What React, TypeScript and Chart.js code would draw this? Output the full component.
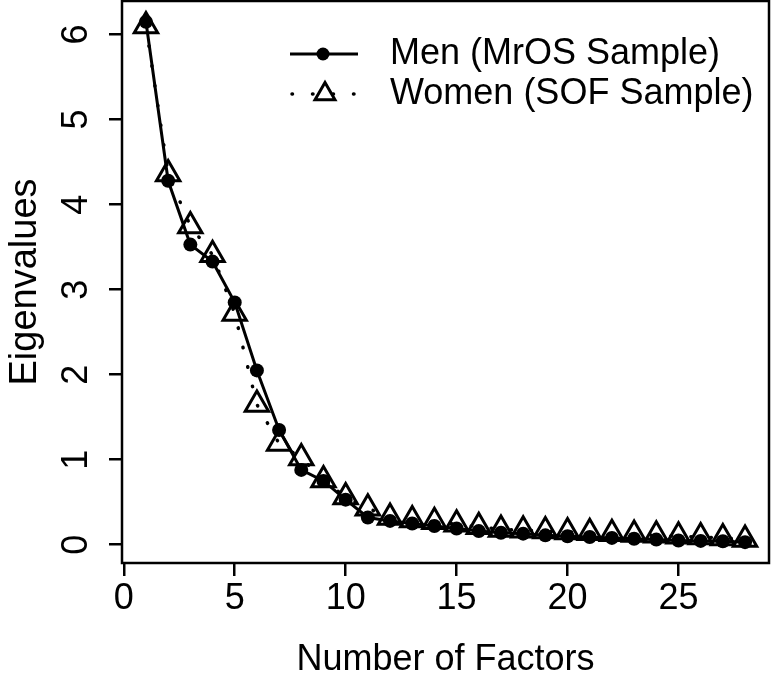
import React, { useEffect, useRef } from 'react';
import { Chart, registerables } from 'chart.js';

Chart.register(...registerables);

// ---- Data ----
const FACTORS = [1, 2, 3, 4, 5, 6, 7, 8, 9, 10, 11, 12, 13, 14, 15, 16, 17, 18, 19, 20, 21, 22, 23, 24, 25, 26, 27, 28];
const MEN = [6.15, 4.28, 3.53, 3.33, 2.85, 2.05, 1.35, 0.88, 0.75, 0.53, 0.32, 0.28, 0.25, 0.22, 0.19, 0.16, 0.14, 0.13, 0.11, 0.10, 0.09, 0.08, 0.07, 0.06, 0.05, 0.045, 0.04, 0.03];
const WOMEN = [6.1, 4.36, 3.75, 3.41, 2.72, 1.65, 1.19, 1.02, 0.76, 0.56, 0.43, 0.32, 0.29, 0.27, 0.24, 0.21, 0.18, 0.17, 0.16, 0.15, 0.14, 0.13, 0.12, 0.11, 0.10, 0.09, 0.08, 0.06];
const X_TICKS = [0, 5, 10, 15, 20, 25];
const Y_TICKS = [0, 1, 2, 3, 4, 5, 6];
const X_LIMITS = [-0.08, 29.08];
const Y_LIMITS = [-0.215, 6.395];
const SERIES_LABELS = ['Men (MrOS Sample)', 'Women (SOF Sample)'];
const X_TITLE = 'Number of Factors';
const Y_TITLE = 'Eigenvalues';

const FONT = 'Helvetica, "Liberation Sans", Arial, sans-serif';
const FONT_SIZE = 36;

const boxLegendPlugin = {
  id: 'boxLegend',
  afterDraw(chart: any) {
    const { ctx, chartArea: a } = chart;
    ctx.save();
    ctx.strokeStyle = '#000';
    ctx.lineWidth = 2.5;
    ctx.strokeRect(a.left, a.top, a.right - a.left, a.bottom - a.top);

    // legend (R style, no box)
    const x0 = 290;
    const x1 = 358;
    const rows = [54, 94];
    // row 1: solid line + filled circle
    ctx.setLineDash([]);
    ctx.lineWidth = 3;
    ctx.beginPath();
    ctx.moveTo(x0, rows[0]);
    ctx.lineTo(x1, rows[0]);
    ctx.stroke();
    ctx.fillStyle = '#000';
    ctx.beginPath();
    ctx.arc(323, rows[0], 6.5, 0, Math.PI * 2);
    ctx.fill();
    // row 2: dotted line + open triangle
    ctx.lineCap = 'round';
    ctx.setLineDash([0.5, 20]);
    ctx.lineWidth = 3.5;
    ctx.beginPath();
    ctx.moveTo(x0 + 2, rows[1]);
    ctx.lineTo(x1, rows[1]);
    ctx.stroke();
    ctx.setLineDash([]);
    ctx.lineCap = 'butt';
    ctx.lineWidth = 3;
    const r = 11.5;
    const cx = 325;
    const cy = rows[1];
    ctx.beginPath();
    ctx.moveTo(cx, cy - r);
    ctx.lineTo(cx + r * Math.sin((2 * Math.PI) / 3), cy - r * Math.cos((2 * Math.PI) / 3));
    ctx.lineTo(cx + r * Math.sin((4 * Math.PI) / 3), cy - r * Math.cos((4 * Math.PI) / 3));
    ctx.closePath();
    ctx.stroke();

    ctx.font = `${FONT_SIZE}px ${FONT}`;
    ctx.textBaseline = 'middle';
    ctx.textAlign = 'left';
    ctx.fillText(SERIES_LABELS[0], 390, rows[0]);
    ctx.fillText(SERIES_LABELS[1], 390, rows[1]);
    ctx.restore();
  },
};

export default function App() {
  const ref = useRef<HTMLCanvasElement>(null);
  useEffect(() => {
    const canvas = ref.current;
    if (!canvas) return;
    const chart = new Chart(canvas, {
      type: 'line',
      data: {
        datasets: [
          {
            label: SERIES_LABELS[0],
            data: FACTORS.map((f, i) => ({ x: f, y: MEN[i] })),
            borderColor: '#000',
            backgroundColor: '#000',
            borderWidth: 3,
            tension: 0,
            pointStyle: 'circle',
            pointRadius: 7,
            pointBackgroundColor: '#000',
            pointBorderColor: '#000',
            pointBorderWidth: 0,
          },
          {
            label: SERIES_LABELS[1],
            data: FACTORS.map((f, i) => ({ x: f, y: WOMEN[i] })),
            borderColor: '#000',
            backgroundColor: 'rgba(0,0,0,0)',
            borderWidth: 3.5,
            borderDash: [0.5, 19.5],
            borderCapStyle: 'round',
            tension: 0,
            pointStyle: 'triangle',
            pointRadius: 13.5,
            pointBackgroundColor: 'rgba(0,0,0,0)',
            pointBorderColor: '#000',
            pointBorderWidth: 3,
          },
        ],
      },
      options: {
        responsive: false,
        animation: false,
        devicePixelRatio: 1,
        events: [],
        layout: { autoPadding: false, padding: { left: 0, right: 4, top: 1, bottom: 0 } },
        plugins: { legend: { display: false }, tooltip: { enabled: false } },
        scales: {
          x: {
            type: 'linear',
            min: X_LIMITS[0],
            max: X_LIMITS[1],
            afterBuildTicks: (s: any) => {
              s.ticks = X_TICKS.map((v) => ({ value: v }));
            },
            afterFit: (s: any) => {
              s.height = 117;
              s.paddingLeft = 0;
              s.paddingRight = 0;
            },
            grid: { display: true, drawOnChartArea: false, drawTicks: true, tickLength: 13, color: '#000', lineWidth: 2.5 },
            border: { display: false },
            ticks: { color: '#000', font: { family: FONT, size: FONT_SIZE }, padding: 1, minRotation: 0, maxRotation: 0, autoSkip: false },
            title: { display: true, text: X_TITLE, color: '#000', font: { family: FONT, size: FONT_SIZE, lineHeight: 1.1 }, padding: { top: 0, bottom: 0 } },
          },
          y: {
            type: 'linear',
            min: Y_LIMITS[0],
            max: Y_LIMITS[1],
            afterBuildTicks: (s: any) => {
              s.ticks = Y_TICKS.map((v) => ({ value: v }));
            },
            afterFit: (s: any) => {
              s.width = 122;
              s.paddingTop = 0;
              s.paddingBottom = 0;
            },
            grid: { display: true, drawOnChartArea: false, drawTicks: true, tickLength: 13, color: '#000', lineWidth: 2.5 },
            border: { display: false },
            ticks: { color: '#000', font: { family: FONT, size: FONT_SIZE }, padding: 22, minRotation: 90, maxRotation: 90, crossAlign: 'center', autoSkip: false },
            title: { display: true, text: Y_TITLE, color: '#000', font: { family: FONT, size: 38 }, padding: { top: 3, bottom: 0 } },
          },
        },
      },
      plugins: [boxLegendPlugin],
    } as any);
    return () => chart.destroy();
  }, []);
  return (
    <div style={{ position: 'fixed', left: 0, top: 0, width: 773, height: 680, background: '#fff' }}>
      <canvas ref={ref} width={773} height={680} style={{ display: 'block' }} />
    </div>
  );
}
